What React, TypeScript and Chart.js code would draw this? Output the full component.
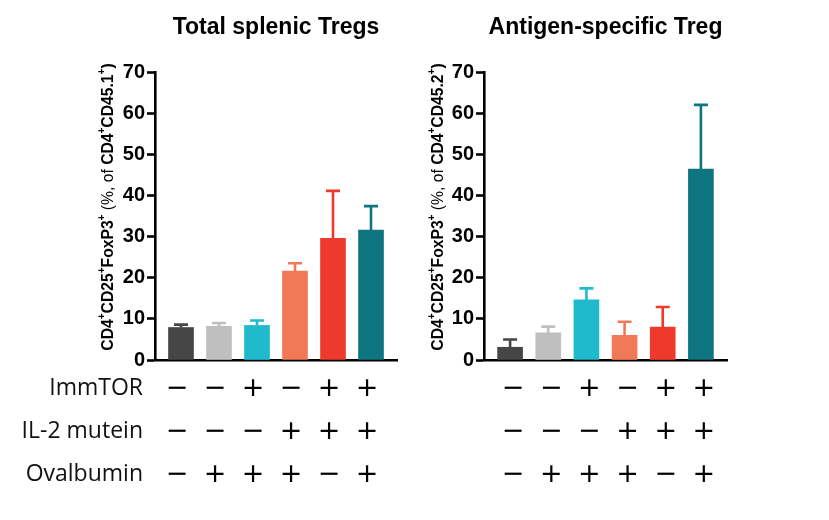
import React, { useEffect, useRef } from "react";
import { Chart, registerables } from "chart.js";

Chart.register(...registerables);

// ---------- data ----------
const groups = ["G1", "G2", "G3", "G4", "G5", "G6"];
const rowLabels = ["ImmTOR", "IL-2 mutein", "Ovalbumin"];
const immtor = [false, false, true, false, true, true];
const il2Mutein = [false, false, false, true, true, true];
const ovalbumin = [false, true, true, true, false, true];
const treatmentRows = [immtor, il2Mutein, ovalbumin];

const barColors = ["#464646", "#bfbfbf", "#1fbbcc", "#f27958", "#ee3a2c", "#0e7480"];

const totalTitle = "Total splenic Tregs";
const totalMeans = [7.9, 8.2, 8.4, 21.6, 29.6, 31.6];
const totalErrs = [0.7, 0.8, 1.2, 1.9, 11.5, 5.8];

const antigenTitle = "Antigen-specific Treg";
const antigenMeans = [3.1, 6.6, 14.6, 6.0, 8.0, 46.4];
const antigenErrs = [1.9, 1.5, 2.8, 3.3, 4.9, 15.6];

const yMin = 0;
const yMax = 70;
const yStep = 10;

// rich y-axis titles: [text, superscript?, bold?]
const totalYTitle: [string, boolean, boolean][] = [
  ["CD4", false, true], ["+", true, true], ["CD25", false, true], ["+", true, true],
  ["FoxP3", false, true], ["+", true, true], [" (%, of ", false, false],
  ["CD4", false, true], ["+", true, true], ["CD45.1", false, true], ["+", true, true], [")", false, true],
];
const antigenYTitle: [string, boolean, boolean][] = [
  ["CD4", false, true], ["+", true, true], ["CD25", false, true], ["+", true, true],
  ["FoxP3", false, true], ["+", true, true], [" (%, of ", false, false],
  ["CD4", false, true], ["+", true, true], ["CD45.2", false, true], ["+", true, true], [")", false, true],
];

// ---------- layout constants ----------
const SANS = "'Liberation Sans', Arial, Helvetica, sans-serif";
const SIGN_FONT = 27;
const ROW_GAP = 43;
const TICK_PAD = 7;
const X_AXIS_H = 160;
const TITLE_SIZE = 23;

const fontsToLoad = [
  "bold 23px 'Liberation Sans'",
  "bold 20px 'Liberation Sans'",
  "15px 'Liberation Sans'",
  "23px 'Open Sans'",
  "27px 'DejaVu Sans'",
];

const errorBarsPlugin = {
  id: "errorBars",
  afterDatasetsDraw(chart: any, _a: any, opts: any) {
    const { ctx } = chart;
    const meta = chart.getDatasetMeta(0);
    const y = chart.scales.y;
    ctx.save();
    ctx.lineWidth = 2.6;
    ctx.lineCap = "butt";
    meta.data.forEach((bar: any, i: number) => {
      const top = y.getPixelForValue(opts.means[i] + opts.errs[i]);
      ctx.strokeStyle = barColors[i];
      ctx.beginPath();
      ctx.moveTo(bar.x, bar.y);
      ctx.lineTo(bar.x, top);
      ctx.moveTo(bar.x - 7, top);
      ctx.lineTo(bar.x + 7, top);
      ctx.stroke();
    });
    ctx.restore();
  },
};

const yTitlePlugin = {
  id: "yTitle",
  afterDraw(chart: any, _a: any, opts: any) {
    const { ctx, chartArea } = chart;
    const size = 15.7;
    const supSize = 10;
    const runs: [string, boolean, boolean][] = opts.runs;
    const fontFor = (sup: boolean, bold: boolean) =>
      `${bold ? "bold " : ""}${sup ? supSize : size}px ${SANS}`;
    let total = 0;
    runs.forEach(([t, sup, bold]) => {
      ctx.font = fontFor(sup, bold);
      total += ctx.measureText(t).width;
    });
    const cy = (chartArea.top + chartArea.bottom) / 2 + opts.dy;
    ctx.save();
    ctx.translate(opts.x, cy);
    ctx.rotate(-Math.PI / 2);
    ctx.fillStyle = "#000";
    ctx.textBaseline = "middle";
    ctx.textAlign = "left";
    let x = -total / 2;
    runs.forEach(([t, sup, bold]) => {
      ctx.font = fontFor(sup, bold);
      ctx.fillText(t, x, sup ? -6.5 : 0);
      x += ctx.measureText(t).width;
    });
    ctx.restore();
  },
};

const rowLabelPlugin = {
  id: "rowLabels",
  afterDraw(chart: any, _a: any, opts: any) {
    if (!opts.show) return;
    const { ctx } = chart;
    const xs = chart.scales.x;
    ctx.save();
    ctx.font = "23px 'Open Sans', sans-serif";
    ctx.fillStyle = "#111";
    ctx.textAlign = "right";
    ctx.textBaseline = "middle";
    rowLabels.forEach((lab, r) => {
      ctx.fillText(lab, opts.x, xs.top + TICK_PAD + ROW_GAP * (r + 0.5));
    });
    ctx.restore();
  },
};

type PanelProps = {
  title: string;
  means: number[];
  errs: number[];
  yRuns: [string, boolean, boolean][];
  left: number;
  width: number;
  yAxisW: number;
  padRight: number;
  yTitleX: number;
  signOffset: number;
  showRows: boolean;
};

function Panel(p: PanelProps) {
  const ref = useRef<HTMLCanvasElement | null>(null);
  useEffect(() => {
    let chart: Chart | null = null;
    let cancelled = false;
    const build = () => {
      if (cancelled || !ref.current) return;
      const lh = TITLE_SIZE * 1.2;
      chart = new Chart(ref.current, {
        type: "bar",
        data: {
          datasets: [
            {
              data: p.means.map((v, i) => ({ x: i, y: v })),
              backgroundColor: barColors,
              borderWidth: 0,
              barThickness: 25,
            },
          ],
        },
        plugins: [errorBarsPlugin, yTitlePlugin, rowLabelPlugin],
        options: {
          animation: false,
          responsive: false,
          devicePixelRatio: 1,
          layout: { padding: { left: 0, right: p.padRight, top: 0, bottom: 0 } },
          plugins: {
            legend: { display: false },
            tooltip: { enabled: false },
            title: {
              display: true,
              text: p.title,
              fullSize: false,
              color: "#000",
              font: { family: SANS, size: TITLE_SIZE, weight: "bold", lineHeight: 1.2 },
              padding: { top: 14, bottom: 72 - 14 - lh },
            },
            errorBars: { means: p.means, errs: p.errs },
            yTitle: { runs: p.yRuns, x: p.yTitleX, dy: -9 },
            rowLabels: { show: p.showRows, x: 143 },
          } as any,
          scales: {
            x: {
              type: "linear",
              min: -0.684,
              max: 5.684,
              offset: false,
              afterBuildTicks: (s: any) => {
                s.ticks = groups.map((_, i) => ({ value: i }));
              },
              afterFit: (s: any) => {
                s.height = X_AXIS_H;
              },
              ticks: {
                autoSkip: false,
                maxRotation: 0,
                minRotation: 0,
                padding: TICK_PAD,
                labelOffset: p.signOffset,
                color: "#000",
                font: { family: "'DejaVu Sans', sans-serif", size: SIGN_FONT, lineHeight: ROW_GAP / SIGN_FONT },
                callback: (v: any) => {
                  const i = Math.round(Number(v));
                  return treatmentRows.map((row) => (row[i] ? "+" : "\u2212"));
                },
              },
              grid: { display: false, drawTicks: false, offset: false },
              border: { display: true, color: "#000", width: 2.6 },
            },
            y: {
              min: yMin,
              max: yMax,
              afterFit: (s: any) => {
                s.width = p.yAxisW;
              },
              ticks: {
                stepSize: yStep,
                padding: 2,
                color: "#000",
                font: { family: SANS, size: 20, weight: "bold" },
              },
              grid: {
                drawOnChartArea: false,
                drawTicks: true,
                tickLength: 8,
                tickWidth: 2.6,
                tickColor: "#000",
                color: "#000",
              },
              border: { display: true, color: "#000", width: 2.6 },
            },
          } as any,
        },
      });
    };
    const fs: any = (document as any).fonts;
    if (fs && fs.load) {
      Promise.all(fontsToLoad.map((f) => fs.load(f).catch(() => null)))
        .then(() => build())
        .catch(() => build());
    } else {
      build();
    }
    return () => {
      cancelled = true;
      if (chart) chart.destroy();
    };
  }, []);
  return (
    <canvas
      ref={ref}
      width={p.width}
      height={520}
      style={{ position: "absolute", left: p.left, top: 0, width: p.width, height: 520 }}
    />
  );
}

export default function App() {
  return (
    <div style={{ position: "absolute", left: 0, top: 0, width: 829, height: 520, background: "#fff" }}>
      <Panel
        title={totalTitle}
        means={totalMeans}
        errs={totalErrs}
        yRuns={totalYTitle}
        left={0}
        width={414}
        yAxisW={155}
        padRight={17}
        yTitleX={109}
        signOffset={-4}
        showRows={true}
      />
      <Panel
        title={antigenTitle}
        means={antigenMeans}
        errs={antigenErrs}
        yRuns={antigenYTitle}
        left={414}
        width={415}
        yAxisW={70}
        padRight={102}
        yTitleX={25}
        signOffset={3}
        showRows={false}
      />
    </div>
  );
}
